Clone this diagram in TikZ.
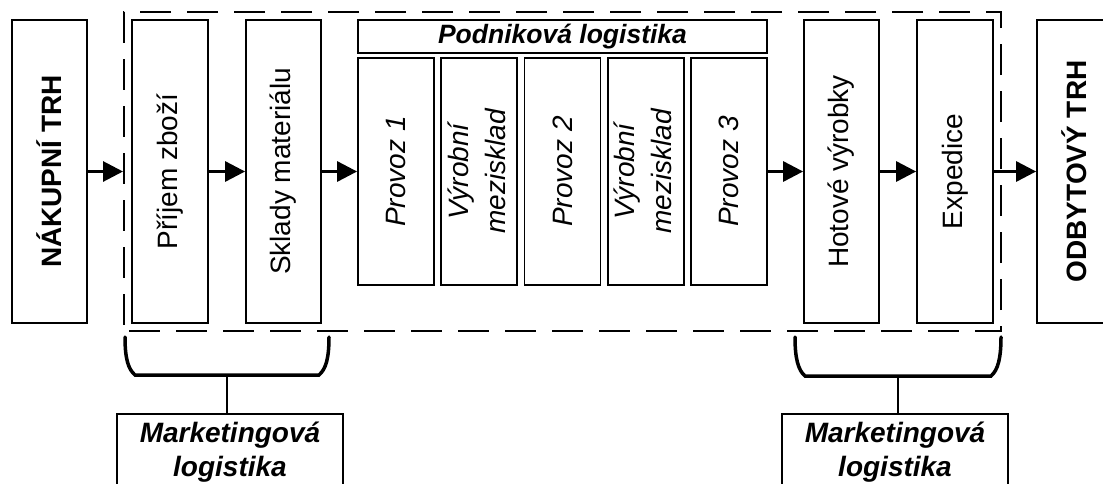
\documentclass[tikz,border=0pt]{standalone}
\usepackage{fontspec}
\setmainfont{Liberation Sans}
\usetikzlibrary{arrows.meta}
\tikzset{
  box/.style={draw, line width=1.8pt, inner sep=0pt, minimum width=#1},
  box/.default=75pt,
  tall/.style={minimum height=303pt},
  stage/.style={minimum height=227pt},
  txt/.style={font=\fontsize{28}{37}\selectfont},
  flow/.style={line width=3pt, -{Triangle[length=20pt,width=20pt]}},
  frame/.style={draw, line width=2pt, dash pattern=on 31pt off 16pt, dash phase=-5pt, inner sep=0pt},
  brace/.style={line width=3.5pt, line cap=round},
  stem/.style={line width=2.5pt},
}
\newcommand{\up}[1]{\rotatebox{90}{#1}}
\newcommand{\uptwo}[2]{\rotatebox{90}{\begin{tabular}{@{}c@{}}#1\\#2\end{tabular}}}
\begin{document}
\begin{tikzpicture}[x=1pt, y=-1pt, txt]
\useasboundingbox (0,0) rectangle (1103,483);
\clip (0,0) rectangle (1103,483);

% company boundary
\node[frame, minimum width=877pt, minimum height=319pt] (frame) at (562.5,171.5) {};

% markets
\node[box, tall] (nak) at (49.5,171.5) {\up{\bfseries NÁKUPNÍ TRH}};
\node[box, tall] (odb) at (1074.5,171.5) {\up{\bfseries ODBYTOVÝ TRH}};

% procurement side
\node[box=76pt, tall] (pri) at (170,171.5) {\up{Příjem zboží}};
\node[box, tall] (skl) at (283.5,171.5) {\up{Sklady materiálu}};

% production
\node[box=409pt, minimum height=33pt, font=\fontsize{26.5}{30}\selectfont\bfseries\itshape] (pod) at (562.5,36.5) {Podniková logistika};
\node[box=76pt, stage] (p1) at (396,171.5) {\itshape\up{Provoz 1}};
\node[box=76pt, stage] (m1) at (479.25,171.5) {\itshape\uptwo{Výrobní}{mezisklad}};
\node[box=76pt, stage] (p2) at (562.5,171.5) {\itshape\up{Provoz 2}};
\node[box=76pt, stage] (m2) at (645.75,171.5) {\itshape\uptwo{Výrobní}{mezisklad}};
\node[box=76pt, stage] (p3) at (729,171.5) {\itshape\up{Provoz 3}};

% distribution side
\node[box, tall] (hot) at (841.5,171.5) {\up{Hotové výrobky}};
\node[box=76pt, tall] (exp) at (955,171.5) {\up{Expedice}};

% material flow
\draw[flow] (nak) -- (frame.west);
\draw[flow] (pri) -- (skl);
\draw[flow] (skl) -- (p1);
\draw[flow] (p3) -- (hot);
\draw[flow] (hot) -- (exp);
\draw[flow] (exp) -- (odb);

% marketing logistics braces
\coordinate (bl1) at (125,337);
\coordinate (br1) at (329,337);
\coordinate (bm1) at (227,375);
\draw[brace] (bl1) .. controls (125,358) and (128,369) .. (135,375)
  -- (319,375) .. controls (326,369) and (329,358) .. (br1);
\node[box=226pt, minimum height=90pt, anchor=north] (mk1) at (230,413) {};
\node[align=center, font=\fontsize{28}{34}\selectfont\bfseries\itshape] (mk1t) at (230,452) {Marketingová\\logistika};
\draw[stem] (bm1) -- (bm1 |- mk1.north);

\coordinate (bl2) at (795,337);
\coordinate (br2) at (1001,337);
\coordinate (bm2) at (898,376);
\draw[brace] (bl2) .. controls (795,358) and (798,370) .. (805,376)
  -- (991,376) .. controls (998,370) and (1001,358) .. (br2);
\node[box=226pt, minimum height=90pt, anchor=north] (mk2) at (895,413) {};
\node[align=center, font=\fontsize{28}{34}\selectfont\bfseries\itshape] (mk2t) at (895,452) {Marketingová\\logistika};
\draw[stem] (bm2) -- (bm2 |- mk2.north);
\end{tikzpicture}
\end{document}
